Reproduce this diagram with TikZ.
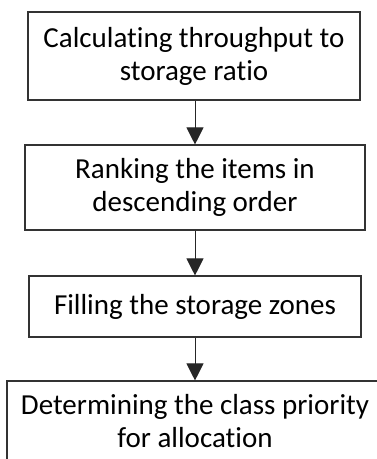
\documentclass[tikz,border=0pt]{standalone}
\usepackage{fontspec}
\setmainfont{Carlito}[Ligatures=NoCommon]
\usetikzlibrary{arrows.meta}
\tikzset{
  procbox/.style={draw=black!80, line width=1.1pt, align=center, inner sep=0pt,
    font=\fontsize{29}{33}\selectfont},
  flow/.style={draw=black!85, line width=1pt, -{Triangle[length=17pt,width=17pt]}}
}
\begin{document}
\begin{tikzpicture}[x=1pt,y=1pt]
\useasboundingbox (0,0) rectangle (377,-459);
\clip (0,0) rectangle (377,-459);
\node[procbox, minimum width=332pt, minimum height=88pt] (b1) at (194,-56)
  {Calculating throughput to\\storage ratio};
\node[procbox, minimum width=340pt, minimum height=85pt] (b2) at (195,-187.5)
  {Ranking the items in\\descending order};
\node[procbox, minimum width=332pt, minimum height=61pt] (b3) at (195,-306.5)
  {Filling the storage zones};
\node[procbox, minimum width=376pt, minimum height=80pt] (b4) at (195,-421)
  {Determining the class priority\\for allocation};
\draw[flow] (b1.south -| b2.north) -- (b2.north);
\draw[flow] (b2.south) -- (b3.north);
\draw[flow] (b3.south) -- (b4.north);
\end{tikzpicture}
\end{document}
